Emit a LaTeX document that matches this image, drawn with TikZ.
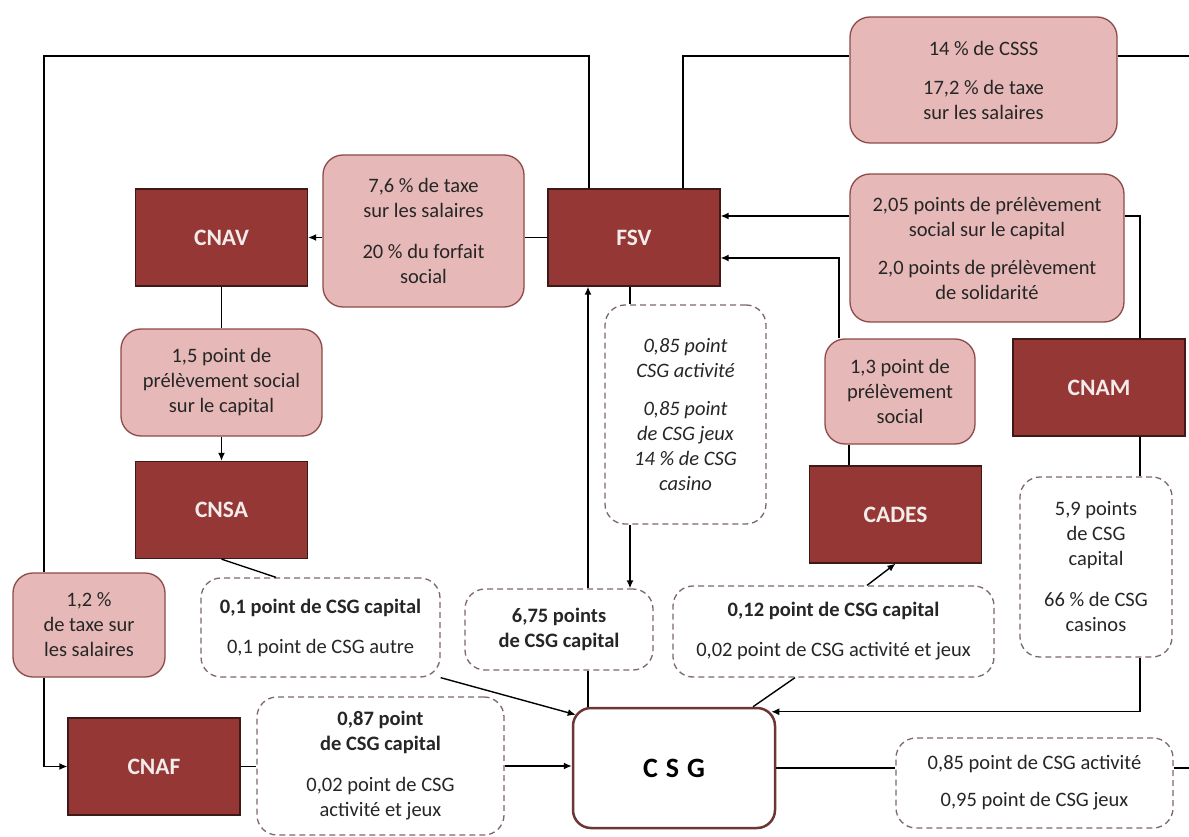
\documentclass[tikz,border=0pt]{standalone}
\usepackage{fontspec}
\setmainfont{Carlito}
\usetikzlibrary{arrows.meta}

\definecolor{caisse}{HTML}{953735}
\definecolor{caissebord}{HTML}{3F1818}
\definecolor{rose}{HTML}{E6B9B8}
\definecolor{rosebord}{HTML}{8E4A49}
\definecolor{tiret}{HTML}{7D6868}
\definecolor{csgbord}{HTML}{6E3535}
\definecolor{texte}{HTML}{262626}

\begin{document}
\begin{tikzpicture}[x=1pt,y=-1pt,>={Latex[length=8pt,width=7pt]},line width=1.4pt]
		\useasboundingbox (0,0) rectangle (1189,837);

		% caisses
		\begin{scope}[every node/.style={rectangle,draw=caissebord,fill=caisse,line width=1.3pt,minimum width=172pt,minimum height=97pt,text=white!90!caisse,font=\fontsize{23.5}{27}\selectfont\bfseries}]
			\node (CNAV) at (221.5,237.5) {CNAV};
			\node (FSV) at (634,237.5) {FSV};
			\node (CNSA) at (221.5,510) {CNSA};
			\node (CNAM) at (1099,387.5) {CNAM};
			\node (CADES) at (895.5,514.5) {CADES};
			\node (CNAF) at (154,766.5) {CNAF};
		\end{scope}

		% taxes et prelevements
		\begin{scope}[every node/.style={rectangle,rounded corners=20pt,draw=rosebord,fill=rose,line width=1.3pt,align=center,inner sep=0pt,text=texte,font=\fontsize{20.5}{25}\selectfont}]
			\node[minimum width=267pt,minimum height=126pt] (CSSS) at (983.5,80) {14 \% de CSSS\\[14pt]17,2 \% de taxe\\sur les salaires};
			\node[minimum width=201pt,minimum height=152pt] (TAXE76) at (423.5,231) {7,6 \% de taxe\\sur les salaires\\[16pt]20 \% du forfait\\social};
			\node[minimum width=274pt,minimum height=148pt] (PS205) at (987,248) {2,05 points de prélèvement\\social sur le capital\\[13pt]2,0 points de prélèvement\\de solidarité};
			\node[minimum width=201pt,minimum height=107pt] (PS15) at (221.5,382.5) {1,5 point de\\prélèvement social\\sur le capital};
			\node[minimum width=150pt,minimum height=105pt] (PS13) at (900,391.5) {1,3 point de\\prélèvement\\social};
			\node[minimum width=152pt,minimum height=104pt] (TAXE12) at (89,625) {1,2 \%\\de taxe sur\\les salaires};
		\end{scope}

		% parts de CSG
		\begin{scope}[every node/.style={rectangle,rounded corners=20pt,draw=tiret,dash pattern=on 6pt off 4pt,fill=white,line width=1.3pt,align=center,inner sep=0pt,text=texte,font=\fontsize{20.5}{25}\selectfont}]
			\node[minimum width=239pt,minimum height=99pt] (CSG01) at (320.5,627.5) {\textbf{0,1 point de CSG capital}\\[15pt]0,1 point de CSG autre};
			\node[minimum width=188pt,minimum height=81pt] (CSG675) at (559,629.5) {\textbf{6,75 points}\\\textbf{de CSG capital}};
			\node[minimum width=161pt,minimum height=219pt,font=\fontsize{20.5}{25}\selectfont\itshape] (CSG085) at (685.5,414.5) {0,85 point\\CSG activité\\[13pt]0,85 point\\de CSG jeux\\14 \% de CSG\\casino};
			\node[minimum width=321pt,minimum height=91pt] (CSG012) at (833.5,631.5) {\textbf{0,12 point de CSG capital}\\[15pt]0,02 point de CSG activité et jeux};
			\node[minimum width=152pt,minimum height=180pt] (CSG59) at (1096,567) {5,9 points\\de CSG\\capital\\[16pt]66 \% de CSG\\casinos};
			\node[minimum width=247pt,minimum height=138pt] (CSG087) at (380.5,766) {\textbf{0,87 point}\\\textbf{de CSG capital}\\[16pt]0,02 point de CSG\\activité et jeux};
			\node[minimum width=277pt,minimum height=90pt] (CSGR) at (1034.5,783) {0,85 point de CSG activité\\[12pt]0,95 point de CSG jeux};
		\end{scope}

		\node[rectangle,rounded corners=18pt,draw=csgbord,fill=white,line width=2.5pt,minimum width=202pt,minimum height=120pt,font=\fontsize{28}{30}\selectfont\bfseries] (CSG) at (674,768) {C\hspace{8pt}S\hspace{8pt}G};

		\coordinate (hautG) at (44,56);
		\coordinate (hautF) at (683,56);
		\coordinate (bordH) at (1189,56);
		\coordinate (bordR) at (1189,768);
		\coordinate (r1) at (1140,216);
		\coordinate (r2) at (839,258);
		\coordinate (v1) at (588,500);
		\coordinate (v2) at (630,400);
		\coordinate (v3) at (849,450);

		\begin{scope}[every edge/.style={draw=black,line width=1.4pt}]
			\path (FSV.west) edge (TAXE76.east |- FSV.west);
			\path [->] (TAXE76.west |- CNAV.east) edge (CNAV.east);
			\path (CNAV.south) edge (PS15.north);
			\path [->] (PS15.south) edge (CNSA.north);
			\path (CNSA.south) edge ([xshift=-44.5pt]CSG01.north);
			\path [->] (CSG01.south east) edge ([xshift=4pt,yshift=-8pt]CSG.north west);
			\path (CNAF.east) edge (CSG087.west |- CNAF.east);
			\path [->] (CSG087.east) edge (CSG.west |- CSG087.east);
			\path (CSG.east) edge (CSGR.west |- CSG.east);
			\path (CSGR.east |- CSG.east) edge (bordR);
			\path (CSG.north -| v1) edge (CSG675.south -| v1);
			\path [->] (CSG675.north -| v1) edge (FSV.south -| v1);
			\path (FSV.south -| v2) edge (CSG085.north -| v2);
			\path [->] (CSG085.south -| v2) edge (CSG675.north -| v2);
			\path ([xshift=79pt]CSG.north) edge ([xshift=-38.5pt]CSG012.south);
			\path [->] ([xshift=33.5pt]CSG012.north) edge (CADES.south);
			\path (CADES.north -| v3) edge (PS13.south -| v3);
			\path [->] (PS205.west |- r1) edge (FSV.east |- r1);
			\path (CNAM.south -| r1) edge (CSG59.north -| r1);
			\path (CSSS.east |- hautF) edge (bordH);
			%\path (CNAM) edge (CSG59);
		\end{scope}

		\draw ([xshift=-45pt]FSV.north) |- (hautG) -- (TAXE12.north -| hautG);
		\draw [->] (TAXE12.south -| hautG) |- (CNAF.west);
		\draw (FSV.north -| hautF) -- (hautF) -- (CSSS.west |- hautF);
		\draw (PS205.east |- r1) -| (CNAM.north -| r1);
		\draw [->] (PS13.north -| r2) |- (FSV.east |- r2);
		\draw [->] (CSG59.south -| r1) |- ([xshift=-5pt,yshift=-5pt]CSG.north east);
\end{tikzpicture}
\end{document}
